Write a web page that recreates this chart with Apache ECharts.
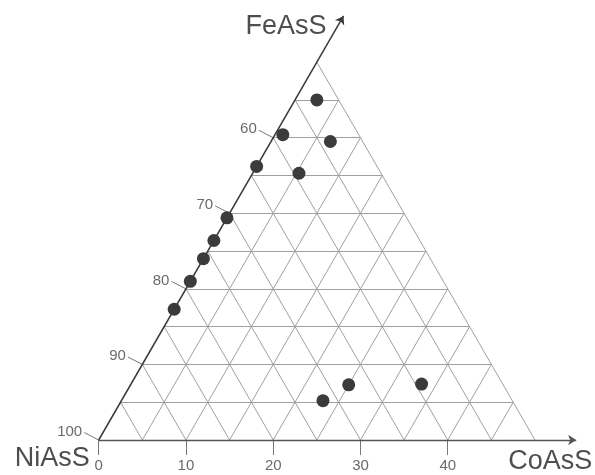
<!DOCTYPE html>
<html><head><meta charset="utf-8">
<script src="https://cdn.jsdelivr.net/npm/echarts@6/dist/echarts.min.js"></script>
<style>html,body{margin:0;padding:0;background:#fff}#c{width:595px;height:475px}</style>
</head><body><div id="c"></div>
<script>
// ---- data: [CoAsS, FeAsS] per sample ----
const coAsS = [2.5, 0.9, 6.8, 0.0, 5.3, 0.0, 0.0, 0.0, 0.0, 0.0, 25.0, 23.1, 33.3];
const feAsS = [55.0, 59.6, 60.5, 63.8, 64.7, 70.6, 73.6, 76.0, 79.0, 82.7, 92.7, 94.8, 92.6];
const bottomTicks = [0, 10, 20, 30, 40];
const leftTicks = [100, 90, 80, 70, 60];
const axisNames = ['NiAsS', 'CoAsS', 'FeAsS'];
const gridStep = 5;
const coMax = 50, feMin = 50, feMax = 100;

// ---- layout (pixels) ----
const W = 595, H = 475;
const ox = 98.7, oy = 440;           // NiAsS corner
const S = 436.3 / coMax;             // px per unit
const K = Math.sqrt(3) / 2;

function xy(c, f) { return [c + (feMax - f) * 0.5, (feMax - f) * K]; }
function off(p, dx, dy) { return [p[0] + dx / S, p[1] - dy / S]; }

// grid lines
const gridSegs = [];
for (let f = feMax - gridStep; f > feMin; f -= gridStep) {
  gridSegs.push({coords: [xy(0, f), xy(coMax - (feMax - f), f)]});
}
for (let c = gridStep; c < coMax; c += gridStep) {
  gridSegs.push({coords: [xy(c, feMax), xy(c, feMin + c)]});   // parallel to left edge
  gridSegs.push({coords: [xy(c, feMax), xy(0, feMax - c)]});   // parallel to right edge
}
gridSegs.push({coords: [xy(coMax, feMax), xy(0, feMin)]});      // right edge

// ticks
const tickSegs = [];
bottomTicks.forEach(v => { const p = xy(v, feMax); tickSegs.push({coords: [p, off(p, 0, 15)]}); });
leftTicks.forEach(v => { const p = xy(0, v); tickSegs.push({coords: [p, off(p, -14.5, -7.5)]}); });

const bottomLabels = bottomTicks.map(v => { const p = off(xy(v, feMax), 0, 26); return {value: [p[0], p[1]], name: String(v)}; });
const leftLabels = leftTicks.map(v => { const p = off(xy(0, v), -16.5, -8.5); return {value: [p[0], p[1]], name: String(v)}; });

const baseEnd = off(xy(0, feMax), 477.5, 0);
const leftTip = off(xy(0, feMin), 26.7, -46.2);
const nameLabels = [
  {value: off(xy(0, feMax), -46.5, 19), name: axisNames[0]},
  {value: off(baseEnd, -26, 22), name: axisNames[1]},
  {value: off(leftTip, -57.5, 11), name: axisNames[2]}
];

const points = coAsS.map((c, i) => xy(c, feAsS[i]));

const chart = echarts.init(document.getElementById('c'), null, {renderer: 'canvas'});
chart.setOption({
  animation: false,
  backgroundColor: '#fff',
  grid: {left: 0, right: 0, top: 0, bottom: 0},
  xAxis: {type: 'value', show: false, min: -ox / S, max: (W - ox) / S},
  yAxis: {type: 'value', show: false, min: -(H - oy) / S, max: oy / S},
  series: [
    {type: 'lines', coordinateSystem: 'cartesian2d', silent: true, data: gridSegs,
     lineStyle: {color: '#a0a0a0', width: 1, opacity: 1}},
    {type: 'lines', coordinateSystem: 'cartesian2d', silent: true, data: tickSegs,
     lineStyle: {color: '#777', width: 1, opacity: 1}},
    {type: 'lines', coordinateSystem: 'cartesian2d', silent: true,
     symbol: ['none', 'arrow'], symbolSize: 8,
     data: [{coords: [xy(0, feMax), baseEnd]}],
     lineStyle: {color: '#555', width: 1.3, opacity: 1}},
    {type: 'lines', coordinateSystem: 'cartesian2d', silent: true,
     symbol: ['none', 'arrow'], symbolSize: 8,
     data: [{coords: [xy(0, feMax), leftTip]}],
     lineStyle: {color: '#3a3a3a', width: 1.5, opacity: 1}},
    {type: 'scatter', silent: true, symbolSize: 1, itemStyle: {color: 'rgba(0,0,0,0)'},
     data: bottomLabels,
     label: {show: true, position: 'inside', formatter: p => p.name,
       fontFamily: 'Liberation Sans, Arial', fontSize: 15, color: '#444'}},
    {type: 'scatter', silent: true, symbolSize: 1, itemStyle: {color: 'rgba(0,0,0,0)'},
     data: leftLabels,
     label: {show: true, position: 'inside', align: 'right', verticalAlign: 'middle',
       formatter: p => p.name,
       fontFamily: 'Liberation Sans, Arial', fontSize: 15, color: '#444'}},
    {type: 'scatter', silent: true, symbolSize: 1, itemStyle: {color: 'rgba(0,0,0,0)'},
     data: nameLabels,
     label: {show: true, position: 'inside', formatter: p => p.name,
       fontFamily: 'Liberation Sans, Arial', fontSize: 27, color: '#222'}},
    {type: 'scatter', silent: true, symbol: 'circle', symbolSize: 13, data: points,
     itemStyle: {color: '#3b3b3b', opacity: 1}}
  ]
});
</script></body></html>
